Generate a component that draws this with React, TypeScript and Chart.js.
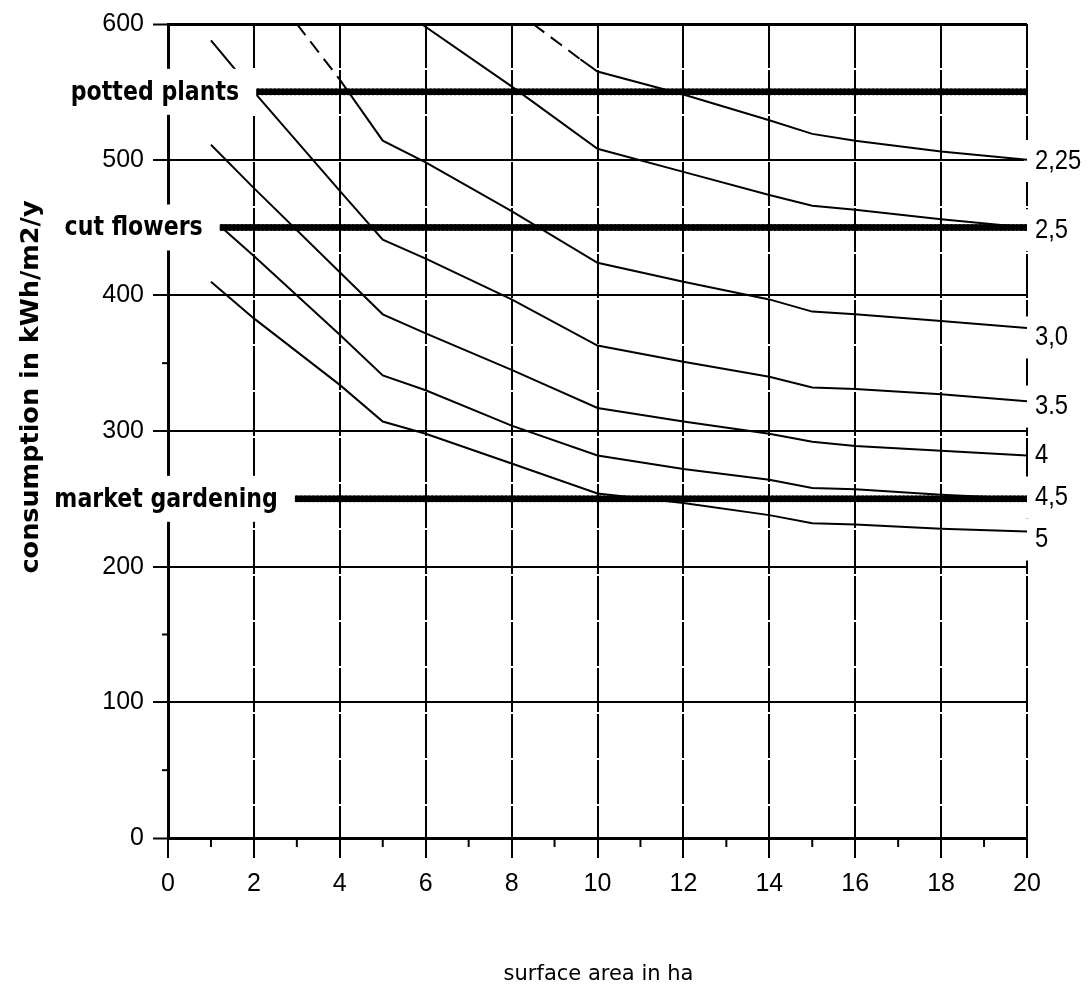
import React, { useEffect, useRef } from "react";
import { Chart, registerables } from "chart.js";

Chart.register(...registerables);

// ---- data ----
const seriesNames = ["2,25", "2,5", "3,0", "3.5", "4", "4,5", "5"];

const s225X = [8.5, 9.6, 10, 12, 14, 15, 16, 18, 20];
const s225Y = [600, 574, 565, 548, 529, 519, 514, 506, 500];

const s25X = [5.9, 8, 10, 12, 14, 15, 16, 18, 20];
const s25Y = [600, 554, 508, 491, 474, 466, 463, 456, 450];

const s30X = [3, 4, 5, 6, 8, 10, 12, 14, 15, 16, 18, 20];
const s30Y = [600, 559, 514, 498, 462, 424, 410, 397, 388, 386, 381, 376];

const s35X = [1, 2, 4, 5, 6, 8, 10, 12, 14, 15, 16, 18, 20];
const s35Y = [588, 550, 477, 441, 427, 397, 363, 351, 340, 332, 331, 327, 322];

const s40X = [1, 2, 4, 5, 6, 8, 10, 12, 14, 15, 16, 18, 20];
const s40Y = [511, 479, 417, 386, 372, 345, 317, 307, 298, 292, 289, 285.5, 282];

const s45X = [1.25, 2, 4, 5, 6, 8, 10, 12, 14, 15, 16, 18, 20];
const s45Y = [450, 429, 371, 341, 330, 304, 282, 272, 264, 258, 257, 253, 250];

const s50X = [1, 2, 4, 5, 6, 8, 10, 12, 14, 15, 16, 18, 20];
const s50Y = [410, 383, 334, 307, 298, 276, 254, 247, 238, 232, 231, 228, 226];

const seriesX = [s225X, s25X, s30X, s35X, s40X, s45X, s50X];
const seriesY = [s225Y, s25Y, s30Y, s35Y, s40Y, s45Y, s50Y];
// dashed (extrapolated) part of each curve, up to this x
const seriesDashUntil = [9.6, null, 4, null, null, null, null];
// where each right-hand label sits (value on the y axis)
const seriesLabelValue = [499, 448, 369, 318, 282, 251, 220];
const seriesLabelBoxed = [true, true, true, true, false, true, true];

const categoryNames = ["potted plants", "cut flowers", "market gardening"];
const categoryLevels = [550, 450, 250];
const categoryStartX = [2.1, 1.25, 3.0];
const categoryEndX = [20, 20, 20];

const xTitle = "surface area in ha";
const yTitle = "consumption in kWh/m2/y";
const xMin = 0, xMax = 20, xStep = 2;
const yMin = 0, yMax = 600, yStep = 100;

function drawScaledText(
  ctx: CanvasRenderingContext2D,
  text: string,
  x: number,
  y: number,
  font: string,
  align: CanvasTextAlign,
  sx: number
) {
  ctx.save();
  ctx.translate(x, y);
  ctx.scale(sx, 1);
  ctx.font = font;
  ctx.textAlign = align;
  ctx.textBaseline = "middle";
  ctx.fillStyle = "#000";
  ctx.fillText(text, 0, 0);
  ctx.restore();
}

const overlayPlugin = {
  id: "overlay",
  beforeDatasetsDraw(chart: any) {
    const ctx: CanvasRenderingContext2D = chart.ctx;
    const xs = chart.scales.x;
    const ys = chart.scales.y;
    const area = chart.chartArea;
    ctx.save();
    ctx.strokeStyle = "#000";
    ctx.lineWidth = 2;
    // minor x ticks
    for (let v = xMin + 1; v < xMax; v += xStep) {
      const px = xs.getPixelForValue(v);
      ctx.beginPath();
      ctx.moveTo(px, area.bottom);
      ctx.lineTo(px, area.bottom + 9);
      ctx.stroke();
    }
    // minor y ticks
    for (let v = yMin + yStep / 2; v < yMax; v += yStep) {
      const py = ys.getPixelForValue(v);
      ctx.beginPath();
      ctx.moveTo(area.left - 6, py);
      ctx.lineTo(area.left, py);
      ctx.stroke();
    }
    // white boxes behind right-hand labels (they break the right border)
    ctx.fillStyle = "#fff";
    seriesLabelValue.forEach((v, i) => {
      if (!seriesLabelBoxed[i]) return;
      const py = ys.getPixelForValue(v);
      ctx.fillRect(area.right - 3, py - 21, chart.width - area.right + 3, 42);
    });
    ctx.restore();
  },
  afterDatasetsDraw(chart: any) {
    const ctx: CanvasRenderingContext2D = chart.ctx;
    const xs = chart.scales.x;
    const ys = chart.scales.y;
    const area = chart.chartArea;
    const boldFont = "bold 26px 'DejaVu Sans'";
    const sx = 0.85;
    // category labels with white boxes
    categoryNames.forEach((name, i) => {
      const py = ys.getPixelForValue(categoryLevels[i]);
      const startPx = xs.getPixelForValue(categoryStartX[i]);
      ctx.save();
      ctx.font = boldFont;
      const w = ctx.measureText(name).width * sx;
      ctx.restore();
      const right = startPx - 19;
      ctx.save();
      ctx.fillStyle = "#fff";
      ctx.fillRect(right - w - 9, py - 23, startPx - 2 - (right - w - 9), 46);
      ctx.restore();
      drawScaledText(ctx, name, right, py + 1, boldFont, "right", sx);
    });
    // right-hand series labels
    seriesNames.forEach((name, i) => {
      const py = ys.getPixelForValue(seriesLabelValue[i]);
      drawScaledText(ctx, name, area.right + 8, py, "28px 'Liberation Sans'", "left", 0.85);
    });
    // axis titles
    ctx.save();
    ctx.fillStyle = "#000";
    ctx.font = "21px 'DejaVu Sans'";
    ctx.textAlign = "center";
    ctx.textBaseline = "alphabetic";
    ctx.fillText(xTitle, (area.left + area.right) / 2 + 1, 980);
    ctx.restore();
    ctx.save();
    ctx.translate(31, 387);
    ctx.rotate(-Math.PI / 2);
    ctx.fillStyle = "#000";
    ctx.font = "bold 25.5px 'DejaVu Sans'";
    ctx.textAlign = "center";
    ctx.textBaseline = "middle";
    ctx.fillText(yTitle, 0, 0);
    ctx.restore();
  },
};

export default function App() {
  const ref = useRef<HTMLCanvasElement | null>(null);

  useEffect(() => {
    if (!ref.current) return;
    const curveSets = seriesNames.map((name, i) => {
      const du = seriesDashUntil[i];
      return {
        label: name,
        data: seriesX[i].map((x, j) => ({ x, y: seriesY[i][j] })),
        borderColor: "#000",
        borderWidth: 2,
        pointRadius: 0,
        tension: 0,
        fill: false,
        segment: {
          borderDash: (c: any) =>
            du != null && c.p1.parsed.x <= du + 1e-6 ? [14, 8] : undefined,
        },
      };
    });
    const categorySets = categoryNames.map((name, i) => ({
      label: name,
      data: [
        { x: categoryStartX[i], y: categoryLevels[i] },
        { x: categoryEndX[i], y: categoryLevels[i] },
      ],
      borderColor: "#000",
      borderWidth: 7,
      borderDash: [0.1, 4],
      borderCapStyle: "round" as const,
      pointRadius: 0,
      fill: false,
    }));

    const chart = new Chart(ref.current, {
      type: "line",
      data: { datasets: [...categorySets, ...curveSets] as any },
      options: {
        responsive: false,
        animation: false,
        events: [],
        layout: { padding: { left: 0, right: 61, top: 24, bottom: 0 } },
        plugins: {
          legend: { display: false },
          tooltip: { enabled: false },
        },
        scales: {
          x: {
            type: "linear",
            min: xMin,
            max: xMax,
            afterFit: (s: any) => {
              s.height = 147;
            },
            ticks: {
              stepSize: xStep,
              color: "#000",
              padding: 11,
              font: { family: "'Liberation Sans'", size: 25 },
            },
            grid: {
              color: "#000",
              lineWidth: 2,
              tickLength: 20,
              tickWidth: 2,
              tickColor: "#000",
            },
            border: { display: true, color: "#000", width: 3, dash: [44, 2] },
          },
          y: {
            type: "linear",
            min: yMin,
            max: yMax,
            afterFit: (s: any) => {
              s.width = 168;
            },
            ticks: {
              stepSize: yStep,
              color: "#000",
              padding: 9,
              font: { family: "'Liberation Sans'", size: 25 },
            },
            grid: {
              color: "#000",
              lineWidth: (c: any) =>
                c.tick && (c.tick.value === yMax || c.tick.value === yMin) ? 3 : 2,
              tickLength: 15,
              tickWidth: 2,
              tickColor: "#000",
            },
            border: { display: true, color: "#000", width: 3 },
          },
        },
      },
      plugins: [overlayPlugin],
    });
    return () => chart.destroy();
  }, []);

  return (
    <div
      style={{
        position: "fixed",
        left: 0,
        top: 0,
        width: 1088,
        height: 985,
        background: "#fff",
      }}
    >
      <canvas ref={ref} width={1088} height={985} style={{ display: "block", width: 1088, height: 985 }} />
    </div>
  );
}
